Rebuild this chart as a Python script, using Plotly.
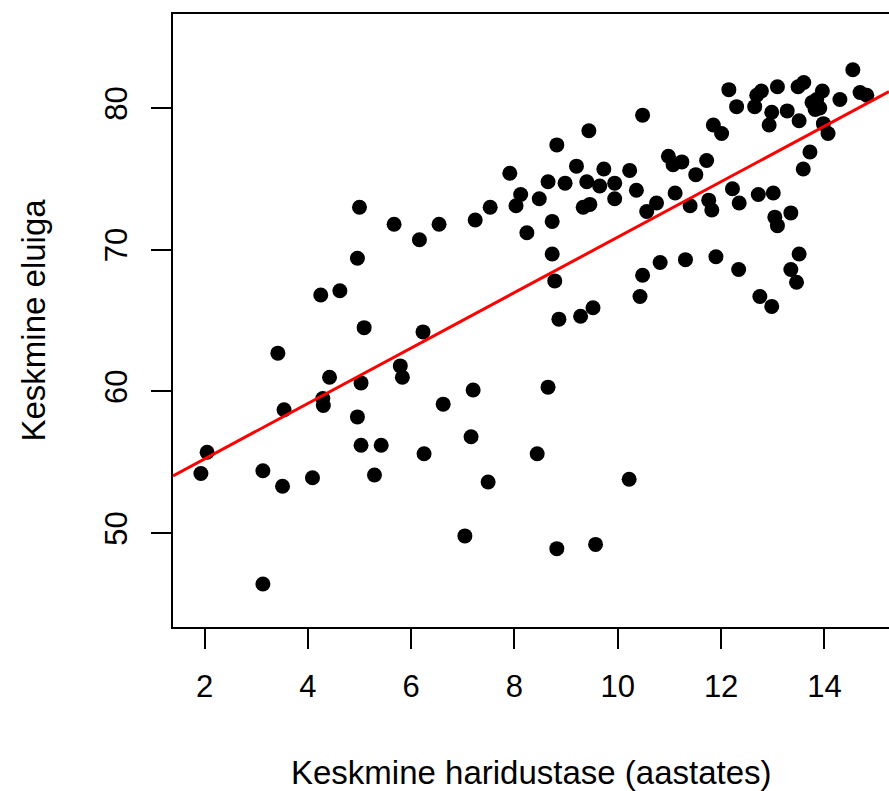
import numpy as np
import plotly.graph_objects as go

# Average years of schooling and life expectancy, one value per country
education = [
    5.00, 5.67, 6.16, 4.96, 4.62, 4.25, 5.09, 6.23, 3.42, 4.42, 5.79, 5.83, 5.03, 4.29,
    4.30, 3.54, 4.96, 2.05, 5.03, 5.42, 6.25, 1.93, 3.13, 5.29, 3.51, 4.09, 3.13,
    10.48, 9.44, 8.82, 9.20, 9.73, 10.23, 7.91, 8.65, 8.98, 9.40, 9.65, 9.94, 10.36,
    8.12, 8.48, 8.03, 9.94, 9.33, 9.46, 7.53, 7.24, 6.54, 8.73, 8.24, 10.56, 10.75,
    8.73, 8.78, 10.82, 10.48, 10.43, 9.52, 9.28, 8.86,
    7.20, 6.62, 8.65, 7.16, 8.44, 7.49, 10.22, 7.04, 8.82, 9.57,
    14.55, 12.15, 12.78, 12.69, 13.09, 13.49, 13.60, 13.96, 14.69, 14.82,
    12.30, 12.65, 12.98, 13.28, 13.76, 13.85, 13.82, 13.91, 14.30,
    12.93, 13.51, 13.98, 14.07, 11.85, 12.01, 13.72, 13.59,
    10.98, 11.07, 11.24, 11.72, 11.51, 11.11, 11.40, 11.76, 11.82,
    12.22, 12.35, 12.72, 13.01, 13.35, 13.04, 13.09,
    13.51, 13.35, 13.46, 12.75, 12.98, 12.34, 11.90, 11.31,
]
life_expectancy = [
    73.0, 71.8, 70.7, 69.4, 67.1, 66.8, 64.5, 64.2, 62.7, 61.0, 61.8, 61.0, 60.6, 59.5,
    59.0, 58.7, 58.2, 55.7, 56.2, 56.2, 55.6, 54.2, 54.4, 54.1, 53.3, 53.9, 46.4,
    79.5, 78.4, 77.4, 75.9, 75.7, 75.6, 75.4, 74.8, 74.7, 74.8, 74.5, 74.7, 74.2,
    73.9, 73.6, 73.1, 73.6, 73.0, 73.2, 73.0, 72.1, 71.8, 72.0, 71.2, 72.7, 73.3,
    69.7, 67.8, 69.1, 68.2, 66.7, 65.9, 65.3, 65.1,
    60.1, 59.1, 60.3, 56.8, 55.6, 53.6, 53.8, 49.8, 48.9, 49.2,
    82.7, 81.3, 81.2, 80.9, 81.5, 81.5, 81.8, 81.2, 81.1, 80.9,
    80.1, 80.1, 79.7, 79.8, 80.4, 80.6, 79.9, 80.0, 80.6,
    78.8, 79.1, 78.9, 78.2, 78.8, 78.2, 76.9, 75.7,
    76.6, 76.0, 76.2, 76.3, 75.3, 74.0, 73.1, 73.5, 72.8,
    74.3, 73.3, 73.9, 74.0, 72.6, 72.3, 71.7,
    69.7, 68.6, 67.7, 66.7, 66.0, 68.6, 69.5, 69.3,
]

# Regression line of life expectancy on schooling (intercept, slope)
fit_intercept = 51.32
fit_slope = 1.957

x_ticks = [2, 4, 6, 8, 10, 12, 14]
y_ticks = [50, 60, 70, 80]
x_range = [1.39, 15.25]
y_range = [43.37, 86.64]

# The fitted line spans the whole panel, like abline()
line_x = np.array(x_range)
line_y = fit_intercept + fit_slope * line_x

FONT = "Liberation Sans, Arial, sans-serif"

fig = go.Figure()
fig.add_trace(go.Scatter(
    x=education, y=life_expectancy, mode="markers",
    marker=dict(color="black", size=15, line=dict(width=0)),
    hoverinfo="x+y", showlegend=False,
))
fig.add_trace(go.Scatter(
    x=line_x, y=line_y, mode="lines",
    line=dict(color="#ff0000", width=3),
    hoverinfo="skip", showlegend=False,
))

axis_common = dict(
    showgrid=False, zeroline=False,
    showline=True, linecolor="black", linewidth=1.5,
    ticks="outside", ticklen=20, tickwidth=1.5, tickcolor="black",
    tickfont=dict(family=FONT, size=31, color="black"),
)
fig.update_xaxes(
    range=x_range, tickvals=x_ticks, mirror=True,
    ticklabelstandoff=11, **axis_common,
)
fig.update_yaxes(
    range=y_range, tickvals=y_ticks, mirror=False, tickangle=-90,
    ticklabelstandoff=12, **axis_common,
)

fig.add_annotation(
    text="Keskmine haridustase (aastates)", xref="paper", yref="paper",
    x=0.5, y=0, xanchor="center", yanchor="middle", yshift=-145,
    showarrow=False, font=dict(family=FONT, size=33, color="black"),
)
fig.add_annotation(
    text="Keskmine eluiga", xref="paper", yref="paper",
    x=0, y=0.5, xanchor="center", yanchor="middle", xshift=-140,
    textangle=-90, showarrow=False,
    font=dict(family=FONT, size=33, color="black"),
)

fig.update_layout(
    width=889, height=791,
    margin=dict(l=173, r=0, t=14, b=164, autoexpand=False),
    plot_bgcolor="white", paper_bgcolor="white",
)

fig.write_html("out.html")
